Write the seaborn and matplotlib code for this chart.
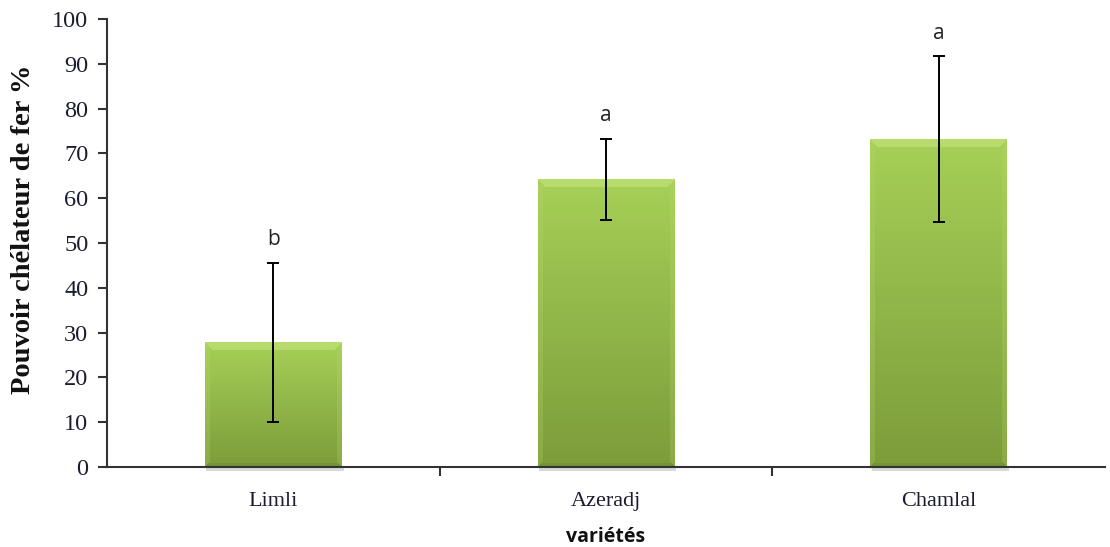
import numpy as np
import pandas as pd
import matplotlib
matplotlib.use("Agg")
import matplotlib.pyplot as plt
import seaborn as sns
from matplotlib.colors import to_rgb

# Iron-chelating capacity by variety
varietes = ["Limli", "Azeradj", "Chamlal"]
moyennes = [27.8, 64.2, 73.2]
ecarts = [17.8, 9.1, 18.5]
groupes = ["b", "a", "a"]
graduations = [0, 10, 20, 30, 40, 50, 60, 70, 80, 90, 100]

df = pd.DataFrame({"variete": varietes, "valeur": moyennes})

sns.set_theme(style="white")
plt.rcParams["font.family"] = ["Liberation Serif", "DejaVu Serif"]

fig = plt.figure(figsize=(11.10, 5.47), dpi=100)
ax = fig.add_axes([0.0964, 0.1463, 0.8991, 0.8190])

sns.barplot(data=df, x="variete", y="valeur", width=0.41, ax=ax,
            color="#9cc44c", edgecolor="none", errorbar=None)

ax.set_xlim(-0.5, 2.5)
ax.set_ylim(0, 100)
fig.canvas.draw()


def bevel_image(wpx, hpx):
    """RGB image of a bevelled green bar, wpx by hpx pixels (row 0 = top)."""
    top_c = np.array(to_rgb("#a6d057"))
    bot_c = np.array(to_rgb("#7c9c3a"))
    t = np.linspace(0, 1, hpx)[:, None, None]
    img = top_c * (1 - t) + bot_c * t
    img = np.broadcast_to(img, (hpx, wpx, 3)).copy()
    r = np.arange(hpx)[:, None]
    c = np.arange(wpx)[None, :]
    dt, db = r, hpx - 1 - r
    dl, dr = c, wpx - 1 - c
    bt, bs, bb = 8, 5, 4
    top = (dt < bt) & (dt <= dl) & (dt <= dr)
    left = (dl < bs) & ~top & (dl < db)
    right = (dr < bs) & ~top & (dr < db)
    bottom = (db < bb) & ~top & ~left & ~right
    img[top] = img[top] * 0.55 + np.array(to_rgb("#cdea8a")) * 0.45
    img[left | right] = img[left | right] * 0.75 + np.array(to_rgb("#b4d868")) * 0.25
    img[bottom] = img[bottom] * 0.8 + np.array(to_rgb("#55702a")) * 0.2
    return np.clip(img, 0, 1)


for p in ax.patches:
    x0, y0 = p.get_x(), p.get_y()
    w, h = p.get_width(), p.get_height()
    (px0, py0), (px1, py1) = ax.transData.transform([(x0, y0), (x0 + w, y0 + h)])
    wpx, hpx = max(int(round(px1 - px0)), 2), max(int(round(py1 - py0)), 2)
    # soft shadow just under the bar
    ax.fill_between([x0 + 0.004, x0 + w + 0.006], -0.9, 0, color="#000000",
                    alpha=0.15, lw=0, zorder=1, clip_on=False)
    ax.imshow(bevel_image(wpx, hpx), origin="upper",
              extent=[x0, x0 + w, y0, y0 + h], aspect="auto",
              interpolation="nearest", zorder=2)
    p.set_facecolor("none")

pos = np.arange(len(varietes))
ax.errorbar(pos, moyennes, yerr=ecarts, fmt="none", ecolor="black",
            elinewidth=1.4, capsize=4.5, capthick=1.4, zorder=4)

for i, (m, e, g) in enumerate(zip(moyennes, ecarts, groupes)):
    ax.text(i, m + e + 2.8, g, ha="center", va="bottom", fontsize=15,
            family=["Open Sans", "DejaVu Sans"], color="#222222", zorder=5)

ax.set_xlim(-0.5, 2.5)
ax.set_ylim(0, 100)
ax.set_yticks(graduations)
ax.set_yticklabels([str(v) for v in graduations], fontsize=17.5, color="#1c1c30")

ax.set_xticks([0.5, 1.5])
ax.set_xticklabels(["", ""])
ax.set_xticks(pos, minor=True)
ax.set_xticklabels(varietes, minor=True, fontsize=16, color="#1c1c30")
ax.tick_params(axis="x", which="minor", length=0, pad=18)
ax.tick_params(axis="x", which="major", length=6.5, width=1.5, color="#333333",
               direction="out", bottom=True)
ax.tick_params(axis="y", length=6.5, width=1.5, color="#333333",
               direction="out", left=True, pad=7)

ax.set_xlabel("variétés", fontsize=14, fontweight="bold",
              family=["Open Sans", "DejaVu Sans"], color="#111111",
              va="center")
ax.xaxis.set_label_coords(0.5, -0.156)
ax.set_ylabel("Pouvoir chélateur de fer %", fontsize=20.5, fontweight="bold",
              color="#111111")
ax.yaxis.set_label_coords(-0.071, 0.531)

for s in ["top", "right"]:
    ax.spines[s].set_visible(False)
for s in ["left", "bottom"]:
    ax.spines[s].set_color("#333333")
    ax.spines[s].set_linewidth(1.5)

fig.savefig("out.png", dpi=100)
